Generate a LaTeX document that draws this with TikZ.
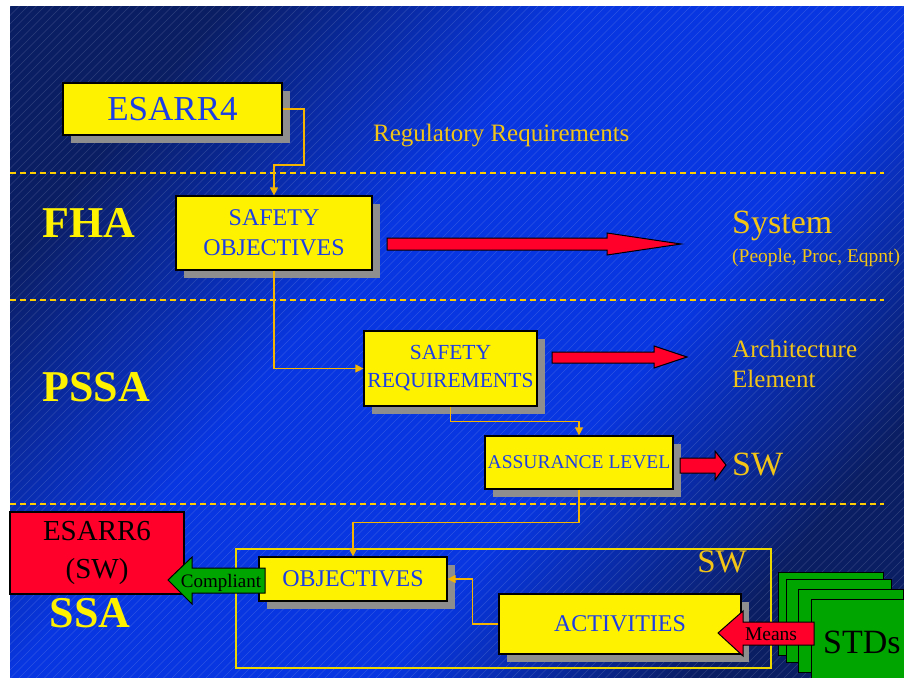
\documentclass[tikz,border=0pt]{standalone}
\usepackage{fontspec}
\setmainfont{Liberation Serif}
\usetikzlibrary{arrows.meta,shadows}

\definecolor{slidenavy}{RGB}{10,30,100}
\definecolor{slideblue}{RGB}{8,54,224}
\definecolor{boxblue}{RGB}{28,62,230}
\definecolor{gold}{RGB}{242,196,22}
\definecolor{dashyellow}{RGB}{255,206,0}
\definecolor{frameyellow}{RGB}{236,216,0}
\definecolor{linkorange}{RGB}{245,180,0}
\definecolor{arrowred}{RGB}{255,0,42}
\definecolor{stdgreen}{RGB}{0,165,0}
\definecolor{shadowgray}{RGB}{142,142,142}

\pgfdeclarehorizontalshading{slideshade}{100bp}{color(0bp)=(slidenavy); color(25bp)=(slidenavy); color(42bp)=(slideblue); color(60bp)=(slideblue); color(75bp)=(slidenavy); color(100bp)=(slidenavy)}

\tikzset{
  box/.style={draw=black,line width=1.2pt,fill=yellow,text=boxblue,align=center,inner sep=0pt,
    drop shadow={shadow xshift=8pt,shadow yshift=-8pt,fill=shadowgray,opacity=1}},
  phase/.style={text=yellow,font=\fontsize{44}{50}\selectfont\bfseries,inner sep=0pt},
  note/.style={text=gold,inner sep=0pt},
  hatch/.style={draw=white,opacity=.14,line width=.6pt},
  phaseline/.style={draw=dashyellow,line width=1.3pt,dash pattern=on 6pt off 4pt},
  link/.style={draw=linkorange,line width=1.2pt,-{Triangle[width=8pt,length=8pt]}},
  fatarrow/.style={draw=black,line width=1pt,fill=arrowred},
  stdcard/.style={draw=black,line width=1pt,fill=stdgreen}
}

\begin{document}
\begin{tikzpicture}[x=1pt,y=-1pt]
  \useasboundingbox (0,0) rectangle (904,677);
  % slide background
  \fill[shading=slideshade,shading angle=-40] (10,7) rectangle (904,677);
  \begin{scope}
    \clip (10,7) rectangle (904,677);
    \foreach \c in {17,25.5,...,1590}
      \draw[hatch] (\c,0) -- (0,\c);
  \end{scope}

  % phase separators
  \draw[phaseline] (10,173) -- (884,173);
  \draw[phaseline] (10,300) -- (884,300);
  \draw[phaseline] (10,504) -- (884,504);

  \node[phase] (fha) at (89,223) {FHA};
  \node[phase] (pssa) at (96,387) {PSSA};
  \node[phase] (ssa) at (90,613) {SSA};

  % software frame
  \draw[draw=frameyellow,line width=1.3pt] (236,549) rectangle (771,668);
  \node[note,anchor=base east,font=\fontsize{33}{38}\selectfont] (swframe) at (747,572) {SW};

  % boxes
  \node[box,minimum width=219pt,minimum height=52pt,font=\fontsize{35}{40}\selectfont] (esarr4) at (172.5,109) {ESARR4};
  \node[box,minimum width=196pt,minimum height=74pt,font=\fontsize{24}{30}\selectfont] (safeobj) at (274,233) {SAFETY\\OBJECTIVES};
  \node[box,minimum width=173pt,minimum height=75pt,font=\fontsize{21.5}{28}\selectfont] (safereq) at (450.5,368.5) {SAFETY\\REQUIREMENTS};
  \node[box,minimum width=188pt,minimum height=53pt,font=\fontsize{19.5}{24}\selectfont] (assur) at (579,462.5) {ASSURANCE LEVEL};
  \node[box,minimum width=188pt,minimum height=44pt,font=\fontsize{24}{30}\selectfont] (objectives) at (353,579) {OBJECTIVES};
  \node[box,minimum width=242pt,minimum height=60pt,font=\fontsize{24}{30}\selectfont] (activities) at (620,624) {ACTIVITIES};
  \node[draw=black,line width=1.2pt,fill=arrowred,align=center,inner sep=0pt,minimum width=174pt,minimum height=82pt,
    font=\fontsize{29}{38}\selectfont] (esarr6) at (97,553) {ESARR6\\(SW)};

  % texts
  \node[note,anchor=base west,font=\fontsize{25}{30}\selectfont] (regreq) at (373,141) {Regulatory Requirements};
  \node[note,anchor=base west,font=\fontsize{34}{40}\selectfont] (system) at (732,233) {System};
  \node[note,anchor=base west,font=\fontsize{19.5}{24}\selectfont] (sysparts) at (732,262) {(People, Proc, Eqpnt)};
  \node[note,anchor=base west,font=\fontsize{25}{30}\selectfont] (arch) at (732,357) {Architecture};
  \node[note,anchor=base west,font=\fontsize{25}{30}\selectfont] (elem) at (732,387) {Element};
  \node[note,anchor=base west,font=\fontsize{34}{40}\selectfont] (sw) at (732,475) {SW};

  % connectors
  \coordinate (k1) at (304,165);
  \draw[link] (esarr4.east) -| (k1) -| (safeobj.north);
  \draw[link] (safeobj.south) |- (safereq.west);
  \draw[link] (safereq.south) -- ++(0,15) -| (assur.north);
  \draw[link] (assur.south) -- ++(0,33) -| (objectives.north);
  \draw[link] (activities.west) -- ++(-26,0) |- (objectives.east);

  % fat arrows
  \filldraw[fatarrow] (387,238) -- (607,238) -- (607,233) -- (681,244) -- (607,255) -- (607,250) -- (387,250) -- cycle;
  \filldraw[fatarrow] (552,352) -- (654,352) -- (654,346) -- (687,357) -- (654,368) -- (654,363) -- (552,363) -- cycle;
  \filldraw[fatarrow] (680,458) -- (715,458) -- (715,451) -- (726,465) -- (715,480) -- (715,473) -- (680,473) -- cycle;

  \filldraw[fatarrow,fill=stdgreen] (265,568) -- (192,568) -- (192,557) -- (168,580) -- (192,604) -- (192,593) -- (265,593) -- cycle;
  \node[anchor=base,inner sep=0pt,font=\fontsize{19}{22}\selectfont] (compliant) at (221,587) {Compliant};

  % standards
  \foreach \x/\y in {778/572,786/579,798/589,811/599}
    \filldraw[stdcard] (\x,\y) rectangle ++(105,83);
  \node[anchor=base west,inner sep=0pt,font=\fontsize{34}{40}\selectfont] (stds) at (823,653) {STDs};

  \filldraw[fatarrow] (814,622) -- (743,622) -- (743,611) -- (718,633) -- (743,656) -- (743,645) -- (814,645) -- cycle;
  \node[anchor=base,inner sep=0pt,font=\fontsize{19.5}{22}\selectfont] (means) at (771,640) {Means};
\end{tikzpicture}
\end{document}
